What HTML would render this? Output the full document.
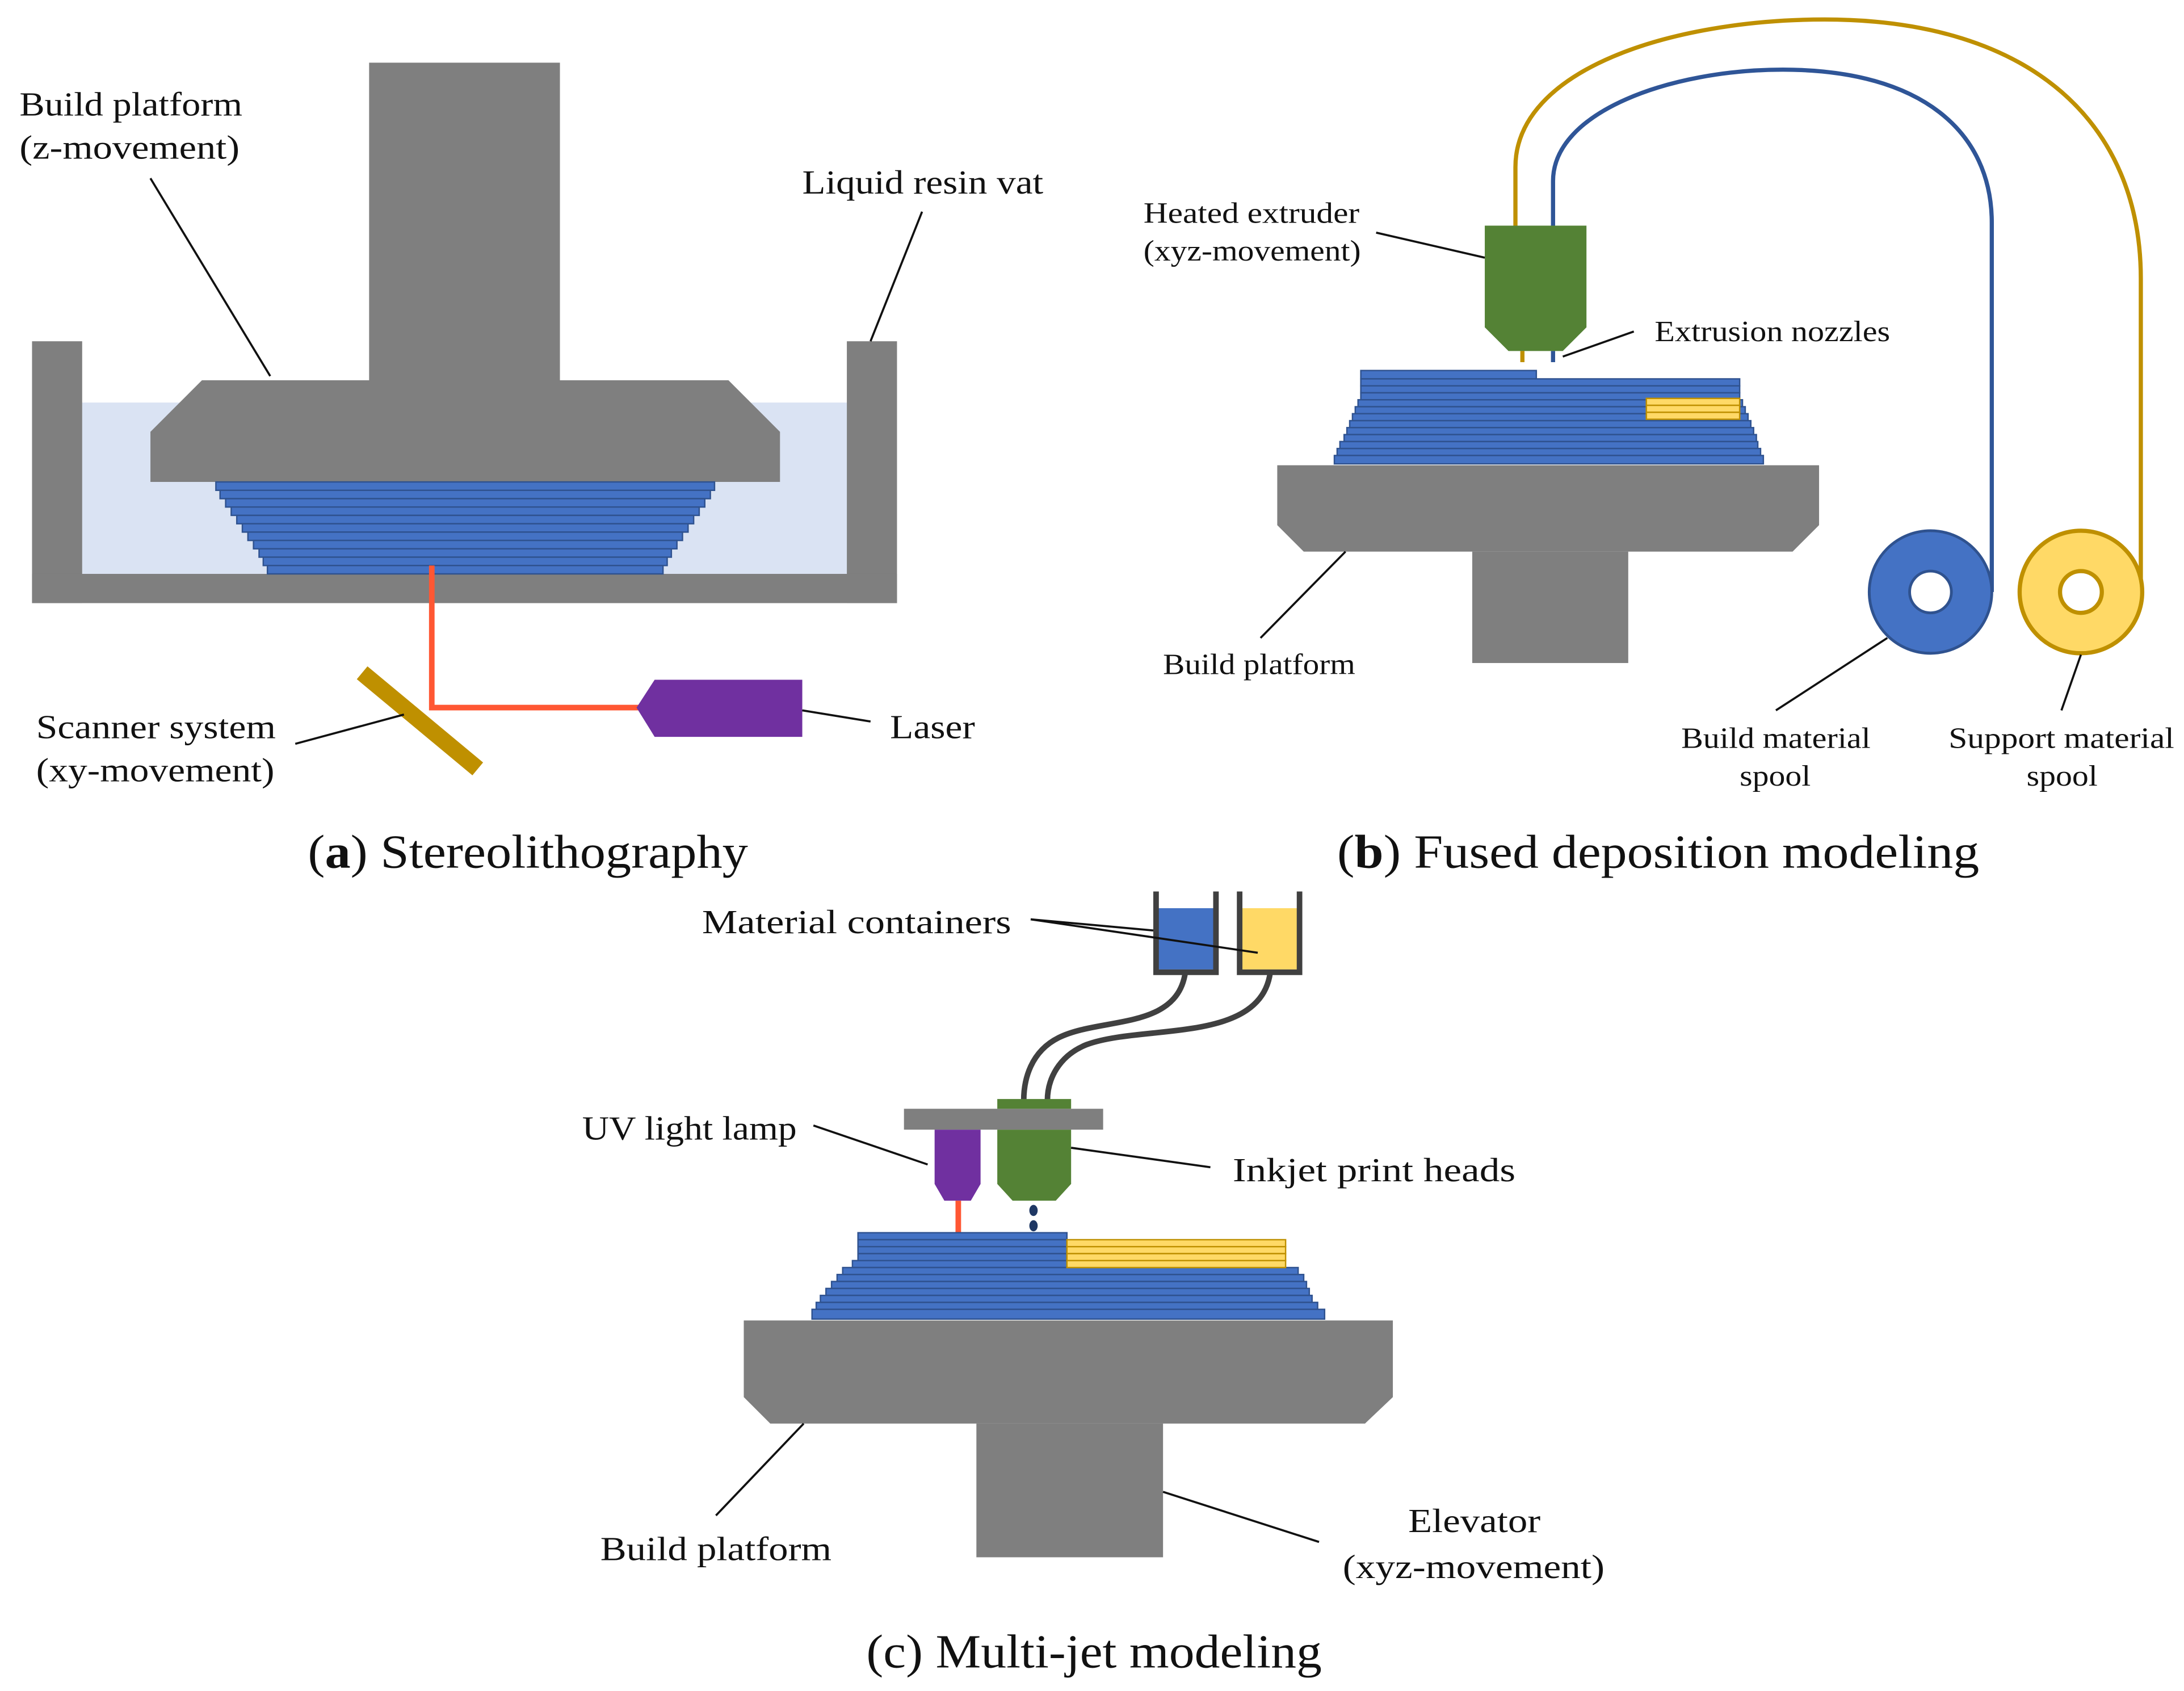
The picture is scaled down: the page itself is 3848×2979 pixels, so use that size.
<!DOCTYPE html>
<html><head><meta charset="utf-8"><style>html,body{margin:0;padding:0;background:#fff}svg{display:block}text{font-family:"Liberation Serif",serif;fill:#111}</style></head>
<body>
<svg width="3848" height="2979" viewBox="0 0 1568 1214" preserveAspectRatio="none" xmlns="http://www.w3.org/2000/svg">
<rect width="1568" height="1214" fill="#fff"/>
<!-- (a) -->
<rect x="59" y="289" width="549" height="123" fill="#dae3f3"/>
<rect x="23" y="245" width="36" height="188" fill="#7f7f7f"/>
<rect x="608" y="245" width="36" height="188" fill="#7f7f7f"/>
<rect x="23" y="412" width="621" height="21" fill="#7f7f7f"/>
<rect x="265" y="45" width="137" height="230" fill="#7f7f7f"/>
<polygon points="145,273 523,273 560,310 560,346 108,346 108,310" fill="#7f7f7f"/>
<g fill="#4472c4" stroke="#2f528f" stroke-width="1">
<rect x="155" y="346" width="358" height="6"/>
<rect x="158" y="352" width="352" height="6"/>
<rect x="162" y="358" width="344" height="6"/>
<rect x="166" y="364" width="336" height="6"/>
<rect x="170" y="370" width="328" height="6"/>
<rect x="174" y="376" width="320" height="6"/>
<rect x="178" y="382" width="312" height="6"/>
<rect x="182" y="388" width="304" height="6"/>
<rect x="186" y="394" width="296" height="6"/>
<rect x="189" y="400" width="290" height="6"/>
<rect x="192" y="406" width="284" height="6"/>
</g>
<polyline points="310,406 310,508 462,508" fill="none" stroke="#ff5733" stroke-width="4"/>
<polygon points="470,488 576,488 576,529 470,529 457,508" fill="#7030a0"/>
<line x1="260" y1="483" x2="343" y2="552" stroke="#bf9000" stroke-width="12"/>
<g stroke="#111" stroke-width="1.5">
<line x1="108" y1="128" x2="194" y2="270"/>
<line x1="662" y1="152" x2="625" y2="245"/>
<line x1="212" y1="534" x2="290" y2="513"/>
<line x1="576" y1="510" x2="625" y2="518"/>
</g>
<g font-size="24" lengthAdjust="spacingAndGlyphs">
<text x="14" y="83" textLength="160" lengthAdjust="spacingAndGlyphs">Build platform</text>
<text x="14" y="114" textLength="158" lengthAdjust="spacingAndGlyphs">(z-movement)</text>
<text x="576" y="139" textLength="173" lengthAdjust="spacingAndGlyphs">Liquid resin vat</text>
<text x="26" y="530" textLength="172" lengthAdjust="spacingAndGlyphs">Scanner system</text>
<text x="26" y="561" textLength="171" lengthAdjust="spacingAndGlyphs">(xy-movement)</text>
<text x="639" y="530" textLength="61" lengthAdjust="spacingAndGlyphs">Laser</text>
</g>
<text x="221" y="623" font-size="34" textLength="316" lengthAdjust="spacingAndGlyphs">(<tspan font-weight="bold">a</tspan>) Stereolithography</text>
<!-- (b) -->
<path d="M1088,162 L1088,120 C1088,50 1200,14 1310,14 C1460,14 1537,90 1537,200 L1537,425" fill="none" stroke="#bf9000" stroke-width="3"/>
<path d="M1115,162 L1115,130 C1115,80 1200,50 1280,50 C1380,50 1430,95 1430,160 L1430,425" fill="none" stroke="#2f5597" stroke-width="3"/>
<polygon points="917,334 1306,334 1306,377 1287,396 936,396 917,377" fill="#7f7f7f"/>
<rect x="1057" y="396" width="112" height="80" fill="#7f7f7f"/>
<g fill="#4472c4" stroke="#2f528f" stroke-width="1">
<rect x="977" y="266" width="126" height="6"/>
<rect x="977" y="272" width="272" height="5"/>
<rect x="977" y="277" width="272" height="5"/>
<rect x="977" y="282" width="272" height="5"/>
<rect x="975" y="287" width="276" height="5"/>
<rect x="973" y="292" width="280" height="5"/>
<rect x="971" y="297" width="284" height="5"/>
<rect x="969" y="302" width="288" height="5"/>
<rect x="967" y="307" width="292" height="5"/>
<rect x="965" y="312" width="296" height="5"/>
<rect x="962" y="317" width="300" height="5"/>
<rect x="960" y="322" width="304" height="5"/>
<rect x="958" y="327" width="308" height="6"/>
</g>
<g fill="#ffd966" stroke="#bf9000" stroke-width="1">
<rect x="1182" y="286" width="67" height="5"/>
<rect x="1182" y="291" width="67" height="5"/>
<rect x="1182" y="296" width="67" height="5"/>
</g>
<polygon points="1066,162 1139,162 1139,235 1122,252 1083,252 1066,235" fill="#548235"/>
<line x1="1093" y1="252" x2="1093" y2="260" stroke="#bf9000" stroke-width="3"/>
<line x1="1115" y1="252" x2="1115" y2="260" stroke="#2f5597" stroke-width="3"/>
<circle cx="1386" cy="425" r="44" fill="#4472c4" stroke="#2f528f" stroke-width="2"/>
<circle cx="1386" cy="425" r="15" fill="#fff" stroke="#2f528f" stroke-width="2"/>
<circle cx="1494" cy="425" r="44" fill="#ffd966" stroke="#bf9000" stroke-width="3"/>
<circle cx="1494" cy="425" r="15" fill="#fff" stroke="#bf9000" stroke-width="3"/>
<g stroke="#111" stroke-width="1.5">
<line x1="988" y1="167" x2="1066" y2="185"/>
<line x1="1173" y1="238" x2="1122" y2="256"/>
<line x1="905" y1="458" x2="966" y2="396"/>
<line x1="1275" y1="510" x2="1355" y2="458"/>
<line x1="1480" y1="510" x2="1494" y2="470"/>
</g>
<g font-size="21">
<text x="821" y="160" textLength="155" lengthAdjust="spacingAndGlyphs">Heated extruder</text>
<text x="821" y="187" textLength="156" lengthAdjust="spacingAndGlyphs">(xyz-movement)</text>
<text x="1188" y="245" textLength="169" lengthAdjust="spacingAndGlyphs">Extrusion nozzles</text>
<text x="835" y="484" textLength="138" lengthAdjust="spacingAndGlyphs">Build platform</text>
<text x="1207" y="537" textLength="136" lengthAdjust="spacingAndGlyphs">Build material</text>
<text x="1249" y="564" textLength="51" lengthAdjust="spacingAndGlyphs">spool</text>
<text x="1399" y="537" textLength="162" lengthAdjust="spacingAndGlyphs">Support material</text>
<text x="1455" y="564" textLength="51" lengthAdjust="spacingAndGlyphs">spool</text>
</g>
<text x="960" y="623" font-size="34" textLength="461" lengthAdjust="spacingAndGlyphs">(<tspan font-weight="bold">b</tspan>) Fused deposition modeling</text>
<!-- (c) -->
<rect x="830" y="652" width="43" height="44" fill="#4472c4"/>
<rect x="890" y="652" width="43" height="44" fill="#ffd966"/>
<polyline points="830,640 830,698 873,698 873,640" fill="none" stroke="#404040" stroke-width="4"/>
<polyline points="890,640 890,698 933,698 933,640" fill="none" stroke="#404040" stroke-width="4"/>
<path d="M851,698 C845,740 790,730 760,745 C740,755 735,775 735,790" fill="none" stroke="#404040" stroke-width="4"/>
<path d="M912,698 C905,750 820,735 780,750 C760,758 752,775 752,790" fill="none" stroke="#404040" stroke-width="4"/>
<rect x="649" y="796" width="143" height="15" fill="#7f7f7f"/>
<rect x="716" y="789" width="53" height="7" fill="#548235"/>
<polygon points="716,811 769,811 769,850 758,862 727,862 716,850" fill="#548235"/>
<polygon points="671,811 704,811 704,850 697,862 678,862 671,850" fill="#7030a0"/>
<line x1="688" y1="862" x2="688" y2="885" stroke="#ff5733" stroke-width="4"/>
<ellipse cx="742" cy="869" rx="3" ry="4" fill="#1f3864"/>
<ellipse cx="742" cy="880" rx="3" ry="4" fill="#1f3864"/>
<polygon points="534,948 1000,948 1000,1003 980,1022 553,1022 534,1003" fill="#7f7f7f"/>
<rect x="701" y="1022" width="134" height="96" fill="#7f7f7f"/>
<g fill="#4472c4" stroke="#2f528f" stroke-width="1">
<rect x="616" y="885" width="150" height="5"/>
<rect x="616" y="890" width="150" height="5"/>
<rect x="616" y="895" width="150" height="5"/>
<rect x="616" y="900" width="150" height="5"/>
<rect x="612" y="905" width="158" height="5"/>
<rect x="605" y="910" width="327" height="5"/>
<rect x="601" y="915" width="335" height="5"/>
<rect x="597" y="920" width="341" height="5"/>
<rect x="593" y="925" width="347" height="5"/>
<rect x="589" y="930" width="353" height="5"/>
<rect x="586" y="935" width="360" height="5"/>
<rect x="583" y="940" width="368" height="7"/>
</g>
<g fill="#ffd966" stroke="#bf9000" stroke-width="1">
<rect x="766" y="890" width="157" height="5"/>
<rect x="766" y="895" width="157" height="5"/>
<rect x="766" y="900" width="157" height="5"/>
<rect x="766" y="905" width="157" height="5"/>
</g>
<g stroke="#111" stroke-width="1.5">
<line x1="740" y1="660" x2="828" y2="668"/>
<line x1="740" y1="660" x2="903" y2="684"/>
<line x1="584" y1="808" x2="666" y2="836"/>
<line x1="869" y1="838" x2="769" y2="824"/>
<line x1="514" y1="1088" x2="577" y2="1022"/>
<line x1="947" y1="1107" x2="835" y2="1071"/>
</g>
<g font-size="24">
<text x="504" y="670" textLength="222" lengthAdjust="spacingAndGlyphs">Material containers</text>
<text x="418" y="818" textLength="154" lengthAdjust="spacingAndGlyphs">UV light lamp</text>
<text x="885" y="848" textLength="203" lengthAdjust="spacingAndGlyphs">Inkjet print heads</text>
<text x="431" y="1120" textLength="166" lengthAdjust="spacingAndGlyphs">Build platform</text>
<text x="1011" y="1100" textLength="95" lengthAdjust="spacingAndGlyphs">Elevator</text>
<text x="964" y="1133" textLength="188" lengthAdjust="spacingAndGlyphs">(xyz-movement)</text>
</g>
<text x="622" y="1197" font-size="34" textLength="327" lengthAdjust="spacingAndGlyphs">(c) Multi-jet modeling</text>
</svg>
</body></html>
